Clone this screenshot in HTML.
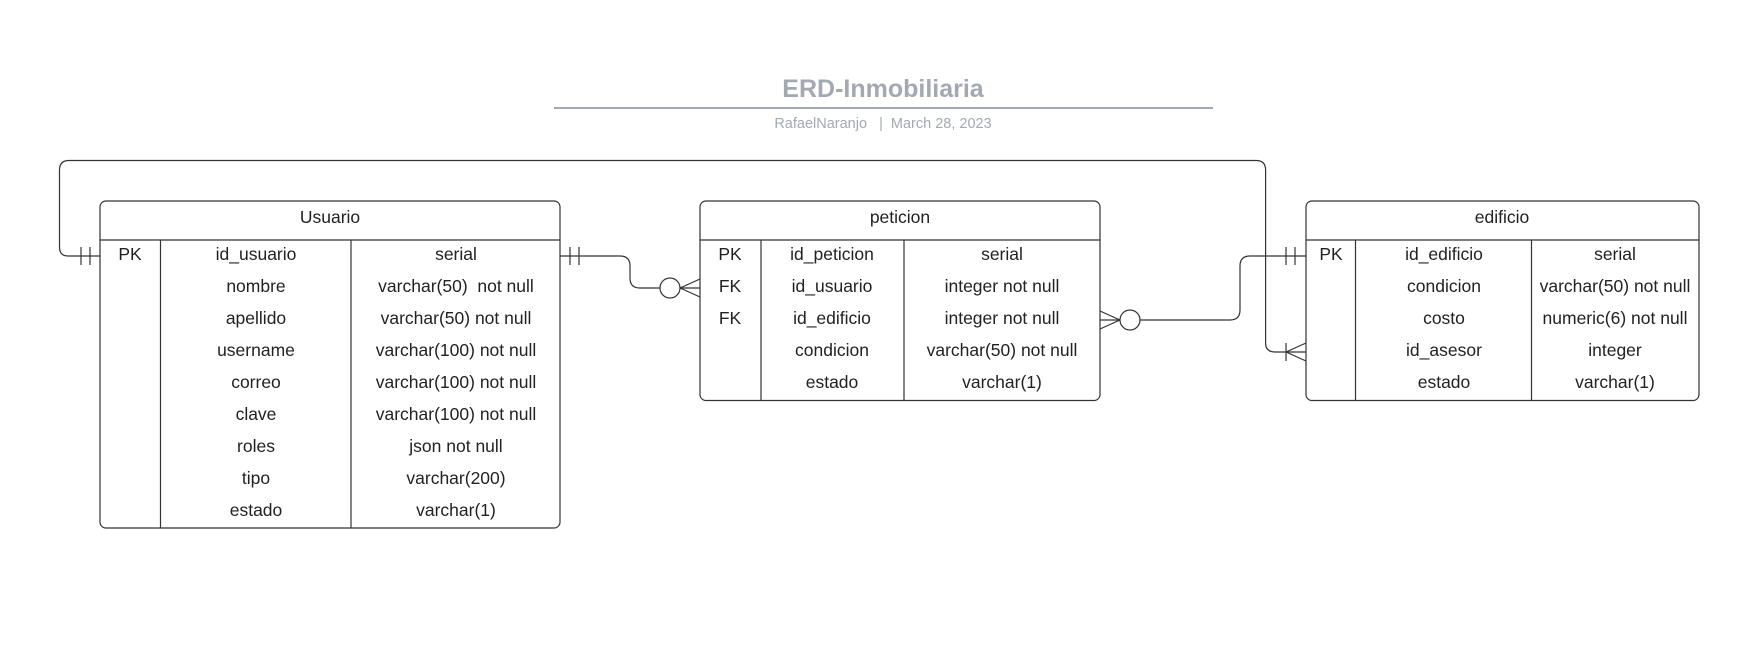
<!DOCTYPE html>
<html><head><meta charset="utf-8"><style>
html,body{margin:0;padding:0;background:#fff;}
svg{display:block;}
text{font-family:"Liberation Sans",sans-serif;}
</style></head><body>
<svg width="1759" height="667" viewBox="0 0 1759 667" xmlns="http://www.w3.org/2000/svg">
<rect width="1759" height="667" fill="#fff"/>
<text x="883" y="97" text-anchor="middle" font-size="25" font-weight="bold" fill="#a3a9b3">ERD-Inmobiliaria</text>
<line x1="554" y1="108" x2="1213" y2="108" stroke="#a3a9b3" stroke-width="2"/>
<text x="883" y="128" text-anchor="middle" font-size="14.5" fill="#a3a9b3">RafaelNaranjo&#160;&#160;&#160;|&#160;&#160;March 28, 2023</text>

<g fill="none" stroke="#333" stroke-width="1.2">
<path d="M100 256 H68 Q59.5 256 59.5 247 V170 Q59.5 160.5 69 160.5 H1256 Q1265.6 160.5 1265.6 170 V343 Q1265.6 352 1275 352 H1306"/>
<line x1="81" y1="247" x2="81" y2="265"/><line x1="90" y1="247" x2="90" y2="265"/>
<line x1="1286" y1="352" x2="1306" y2="343"/><line x1="1286" y1="352" x2="1306" y2="361"/><line x1="1286" y1="343" x2="1286" y2="361"/>
<path d="M560 256 H620 Q630 256 630 266 V278 Q630 288 640 288 H660"/>
<line x1="570" y1="247" x2="570" y2="265"/><line x1="579" y1="247" x2="579" y2="265"/>
<circle cx="670" cy="288" r="10" fill="#fff"/>
<line x1="680" y1="288" x2="700" y2="288"/><line x1="680" y1="288" x2="700" y2="279"/><line x1="680" y1="288" x2="700" y2="297"/>
<line x1="1120" y1="320" x2="1100" y2="320"/><line x1="1120" y1="320" x2="1100" y2="311"/><line x1="1120" y1="320" x2="1100" y2="329"/>
<circle cx="1130" cy="320" r="10" fill="#fff"/>
<path d="M1140 320 H1230 Q1240 320 1240 310 V266 Q1240 256 1250 256 H1306"/>
<line x1="1286" y1="247" x2="1286" y2="265"/><line x1="1295" y1="247" x2="1295" y2="265"/>
</g>

<g fill="none" stroke="#333" stroke-width="1.2">
<rect x="100" y="201" width="460" height="327" rx="6"/>
<line x1="100" y1="240" x2="560" y2="240"/>
<line x1="160.5" y1="240" x2="160.5" y2="528"/><line x1="351" y1="240" x2="351" y2="528"/>
<rect x="700" y="201" width="400" height="199.5" rx="6"/>
<line x1="700" y1="240" x2="1100" y2="240"/>
<line x1="761" y1="240" x2="761" y2="400.5"/><line x1="904" y1="240" x2="904" y2="400.5"/>
<rect x="1306" y="201" width="393" height="199.5" rx="6"/>
<line x1="1306" y1="240" x2="1699" y2="240"/>
<line x1="1355.5" y1="240" x2="1355.5" y2="400.5"/><line x1="1531.5" y1="240" x2="1531.5" y2="400.5"/>
</g>

<g font-size="17.5" fill="#222" text-anchor="middle">
<text x="330" y="223">Usuario</text>
<text x="130" y="260">PK</text>
<text x="256" y="260">id_usuario</text><text x="456" y="260">serial</text>
<text x="256" y="292">nombre</text><text x="456" y="292">varchar(50)&#160; not null</text>
<text x="256" y="324">apellido</text><text x="456" y="324">varchar(50) not null</text>
<text x="256" y="356">username</text><text x="456" y="356">varchar(100) not null</text>
<text x="256" y="388">correo</text><text x="456" y="388">varchar(100) not null</text>
<text x="256" y="420">clave</text><text x="456" y="420">varchar(100) not null</text>
<text x="256" y="452">roles</text><text x="456" y="452">json not null</text>
<text x="256" y="484">tipo</text><text x="456" y="484">varchar(200)</text>
<text x="256" y="516">estado</text><text x="456" y="516">varchar(1)</text>

<text x="900" y="223">peticion</text>
<text x="730" y="260">PK</text><text x="832" y="260">id_peticion</text><text x="1002" y="260">serial</text>
<text x="730" y="292">FK</text><text x="832" y="292">id_usuario</text><text x="1002" y="292">integer not null</text>
<text x="730" y="324">FK</text><text x="832" y="324">id_edificio</text><text x="1002" y="324">integer not null</text>
<text x="832" y="356">condicion</text><text x="1002" y="356">varchar(50) not null</text>
<text x="832" y="388">estado</text><text x="1002" y="388">varchar(1)</text>

<text x="1502" y="223">edificio</text>
<text x="1331" y="260">PK</text><text x="1444" y="260">id_edificio</text><text x="1615" y="260">serial</text>
<text x="1444" y="292">condicion</text><text x="1615" y="292">varchar(50) not null</text>
<text x="1444" y="324">costo</text><text x="1615" y="324">numeric(6) not null</text>
<text x="1444" y="356">id_asesor</text><text x="1615" y="356">integer</text>
<text x="1444" y="388">estado</text><text x="1615" y="388">varchar(1)</text>
</g>
</svg>
</body></html>
